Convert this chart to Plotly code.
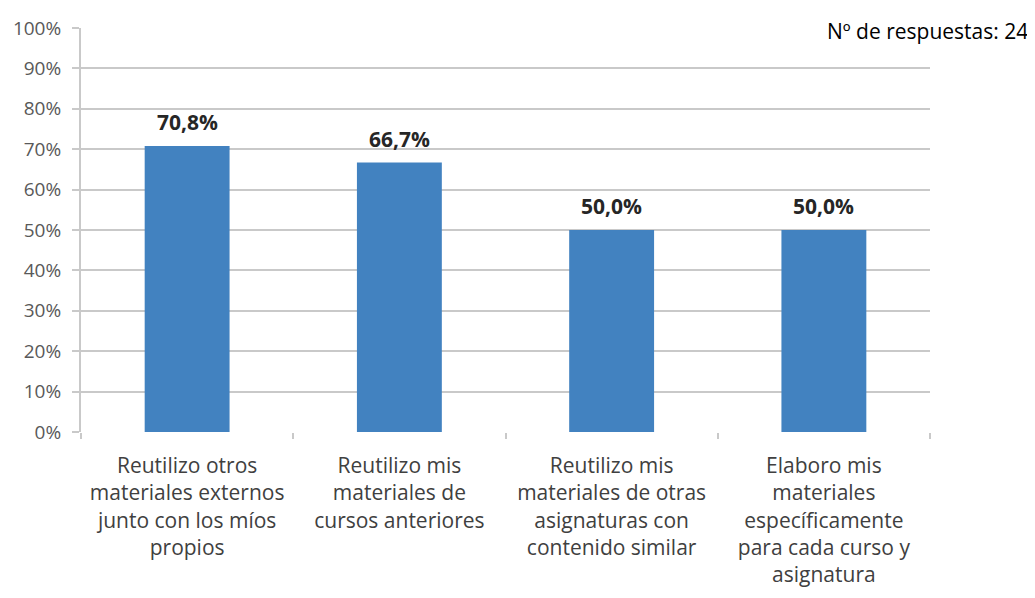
import plotly.graph_objects as go

categories = [
    "Reutilizo otros<br>materiales externos<br>junto con los míos<br>propios",
    "Reutilizo mis<br>materiales de<br>cursos anteriores",
    "Reutilizo mis<br>materiales de otras<br>asignaturas con<br>contenido similar",
    "Elaboro mis<br>materiales<br>específicamente<br>para cada curso y<br>asignatura",
]
values = [70.8, 66.7, 50.0, 50.0]
labels = ["70,8%", "66,7%", "50,0%", "50,0%"]
y_ticks = [0, 10, 20, 30, 40, 50, 60, 70, 80, 90, 100]
y_tick_text = [f"{v}%" for v in y_ticks]
note = "Nº de respuestas: 24"

FONT = "Open Sans"
GRID = "#c9c9c9"

fig = go.Figure(go.Bar(
    x=categories, y=values,
    marker=dict(color="#4282c0", line=dict(width=0)),
    width=0.4,
))

annotations = [
    dict(x=c, y=v, text=t, xref="x", yref="y", showarrow=False,
         yanchor="bottom", yshift=8,
         font=dict(family=FONT, size=21, color="#262626", weight="bold"))
    for c, v, t in zip(categories, values, labels)
]
annotations.append(dict(
    text=note, xref="paper", yref="paper",
    x=1.0, y=1.0, xanchor="right", yanchor="middle", xshift=100, yshift=-3,
    showarrow=False,
    font=dict(family=FONT, size=21, color="black"),
))

fig.update_layout(
    width=1027, height=590,
    margin=dict(l=73, r=105, t=20, b=166, autoexpand=False),
    paper_bgcolor="white", plot_bgcolor="white",
    showlegend=False,
    font=dict(family=FONT),
    annotations=annotations,
    shapes=[dict(type="rect", xref="paper", yref="paper", x0=0.829, x1=1.0,
                 y0=0.99, y1=1.01, fillcolor="white", line=dict(width=0),
                 layer="above")],
)
fig.update_yaxes(
    range=[0, 100], tickvals=y_ticks, ticktext=y_tick_text,
    showgrid=True, gridcolor=GRID, gridwidth=2,
    showline=True, linecolor=GRID, linewidth=2,
    ticks="outside", ticklen=7, tickcolor=GRID, tickwidth=2,
    tickfont=dict(family=FONT, size=19, color="#595959"),
    ticklabelstandoff=7,
    zeroline=False, automargin=False,
)
fig.update_xaxes(
    showline=False, tickson="boundaries", ticks="outside", ticklen=6,
    tickcolor=GRID, tickwidth=2,
    tickfont=dict(family=FONT, size=21, color="#404040"),
    ticklabelstandoff=19,
    tickangle=0, automargin=False,
)
fig.write_html("out.html")
